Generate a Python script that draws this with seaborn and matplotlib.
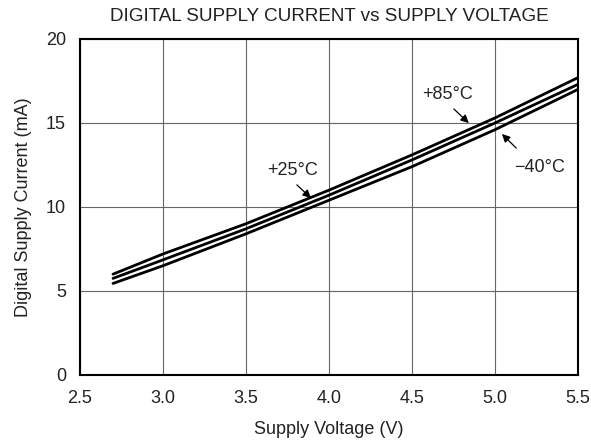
import matplotlib
matplotlib.use("Agg")
import matplotlib.pyplot as plt
import seaborn as sns
import pandas as pd

voltage = [2.7, 3.0, 3.5, 4.0, 4.5, 5.0, 5.5]
current_85 = [6.0, 7.2, 9.0, 11.0, 13.1, 15.3, 17.7]
current_25 = [5.75, 6.85, 8.7, 10.7, 12.8, 15.0, 17.3]
current_m40 = [5.45, 6.5, 8.4, 10.4, 12.4, 14.6, 17.0]
series_names = ["+85°C", "+25°C", "\u221240°C"]
x_ticks = [2.5, 3.0, 3.5, 4.0, 4.5, 5.0, 5.5]
y_ticks = [0, 5, 10, 15, 20]

rows = []
for name, vals in zip(series_names, [current_85, current_25, current_m40]):
    for v, c in zip(voltage, vals):
        rows.append({"V": v, "I": c, "T": name})
df = pd.DataFrame(rows)

sns.set_style("white")
plt.rcParams["font.family"] = ["Liberation Sans", "DejaVu Sans"]

FS = 13
fig = plt.figure(figsize=(5.91, 4.43), dpi=100)
ax = fig.add_axes([0.135, 0.1535, 0.843, 0.7585])

sns.lineplot(data=df, x="V", y="I", hue="T", palette=["black"] * 3,
             linewidth=2.0, legend=False, ax=ax)

ax.set_xlim(2.5, 5.5)
ax.set_ylim(0, 20)
ax.set_xticks(x_ticks)
ax.set_xticklabels([f"{t:.1f}" for t in x_ticks])
ax.set_yticks(y_ticks)
ax.grid(True, color="#666666", linewidth=0.8)
for s in ax.spines.values():
    s.set_color("black")
    s.set_linewidth(1.5)
ax.tick_params(axis="x", length=0, labelsize=FS, pad=11, colors="#222222")
ax.tick_params(axis="y", length=0, labelsize=FS, pad=10, colors="#222222")
ax.set_xlabel("Supply Voltage (V)", fontsize=FS, labelpad=10, color="#222222")
ax.set_ylabel("Digital Supply Current (mA)", fontsize=FS, labelpad=10, color="#222222")
ax.set_title("DIGITAL SUPPLY CURRENT vs SUPPLY VOLTAGE", fontsize=13.6, pad=13, color="#222222")

arrow = dict(arrowstyle="-|>", color="black", lw=0.9, mutation_scale=12)
ax.text(4.717, 16.67, "+85°C", fontsize=FS, ha="center", va="center", color="#222222")
ax.annotate("", xy=(4.855, 14.88), xytext=(4.74, 15.95), arrowprops=arrow)
ax.text(5.27, 12.38, "\u221240°C", fontsize=FS, ha="center", va="center", color="#222222")
ax.annotate("", xy=(5.03, 14.46), xytext=(5.14, 13.39), arrowprops=arrow)
ax.text(3.78, 12.2, "+25°C", fontsize=FS, ha="center", va="center", color="#222222")
ax.annotate("", xy=(3.904, 10.42), xytext=(3.795, 11.43), arrowprops=arrow)

fig.savefig("out.png", dpi=100)
